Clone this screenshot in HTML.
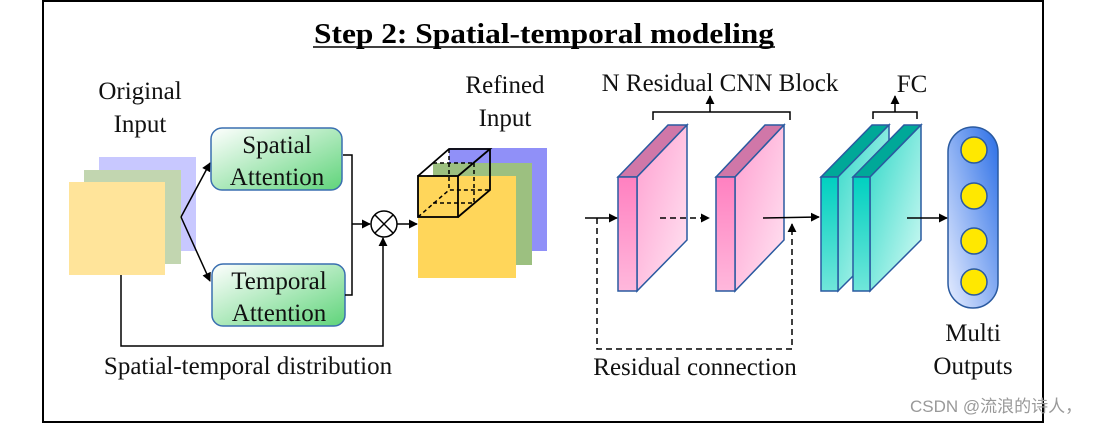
<!DOCTYPE html>
<html><head><meta charset="utf-8"><style>html,body{margin:0;padding:0;background:#fff}svg{display:block}</style></head>
<body>
<svg width="1116" height="424" viewBox="0 0 1116 424" xmlns="http://www.w3.org/2000/svg" font-family="Liberation Serif, serif">
<defs>
<linearGradient id="g1" x1="0" y1="0" x2="1" y2="1"><stop offset="0" stop-color="#ffffff"/><stop offset="1" stop-color="#5fd47a"/></linearGradient>
<linearGradient id="pk" x1="0" y1="0" x2="1" y2="1"><stop offset="0" stop-color="#ff9fd0"/><stop offset="1" stop-color="#ffe6f3"/></linearGradient>
<linearGradient id="pkf" x1="0" y1="0" x2="0" y2="1"><stop offset="0" stop-color="#ff80c0"/><stop offset="1" stop-color="#ffb8dc"/></linearGradient>
<linearGradient id="tl" x1="0" y1="0" x2="1" y2="1"><stop offset="0" stop-color="#30d8c8"/><stop offset="1" stop-color="#d8fbf5"/></linearGradient>
<linearGradient id="tlf" x1="0" y1="0" x2="0" y2="1"><stop offset="0" stop-color="#00d0c0"/><stop offset="1" stop-color="#70e6da"/></linearGradient>
<linearGradient id="bl" x1="1" y1="0" x2="0" y2="1"><stop offset="0" stop-color="#2a6ee6"/><stop offset="1" stop-color="#e8eeff"/></linearGradient>
<marker id="ar" viewBox="0 0 10 10" refX="9" refY="5" markerWidth="9" markerHeight="9" markerUnits="userSpaceOnUse" orient="auto"><path d="M0,0 L10,5 L0,10 z" fill="#000"/></marker>
</defs>
<rect x="43" y="1" width="1000" height="421" fill="none" stroke="#000" stroke-width="2"/>
<text x="314" y="43" font-size="29" font-weight="bold" textLength="460" lengthAdjust="spacingAndGlyphs">Step 2:  Spatial-temporal modeling</text>
<line x1="313" y1="47" x2="775" y2="47" stroke="#000" stroke-width="1.5"/>
<g font-size="25" text-anchor="middle" fill="#111">
<text x="140" y="99">Original</text><text x="140" y="132">Input</text>
<text x="505" y="93">Refined</text><text x="505" y="126">Input</text>
<text x="720" y="91">N Residual CNN Block</text>
<text x="912" y="92">FC</text>
<text x="973" y="341">Multi</text><text x="973" y="374">Outputs</text>
<text x="248" y="374">Spatial-temporal distribution</text>
<text x="695" y="375">Residual connection</text>
</g>
<rect x="99" y="157" width="97" height="94" fill="#c8c8ff"/>
<rect x="84" y="170" width="97" height="94" fill="#c2d6b0"/>
<rect x="69" y="182" width="96" height="93" fill="#ffe49a"/>
<g stroke="#000" stroke-width="1.5" fill="none">
<line x1="181" y1="217" x2="210" y2="163" marker-end="url(#ar)"/>
<line x1="181" y1="217" x2="210" y2="281" marker-end="url(#ar)"/>
</g>
<rect x="211" y="128" width="131" height="62" rx="11" fill="url(#g1)" stroke="#3a6fb0" stroke-width="1.5"/>
<rect x="212" y="264" width="133" height="62" rx="11" fill="url(#g1)" stroke="#3a6fb0" stroke-width="1.5"/>
<g font-size="25" text-anchor="middle" fill="#111">
<text x="277" y="153">Spatial</text><text x="277" y="185">Attention</text>
<text x="279" y="289">Temporal</text><text x="279" y="321">Attention</text>
</g>
<g stroke="#000" stroke-width="1.5" fill="none">
<polyline points="343,155 352,155 352,295 345,295"/>
<line x1="352" y1="224" x2="370" y2="224" marker-end="url(#ar)"/>
<circle cx="384" cy="224" r="13"/>
<line x1="375" y1="215" x2="393" y2="233"/><line x1="393" y1="215" x2="375" y2="233"/>
<line x1="397" y1="224" x2="417" y2="224" marker-end="url(#ar)"/>
<polyline points="121,275 121,346 383,346 383,238" marker-end="url(#ar)"/>
</g>
<rect x="449" y="148" width="98" height="103" fill="#9090f8"/>
<rect x="433" y="163" width="99" height="102" fill="#9cc080"/>
<rect x="418" y="176" width="98" height="102" fill="#ffd65a"/>
<g stroke="#000" stroke-width="1.8" fill="none">
<rect x="418" y="176" width="40" height="41"/>
<polyline points="418,176 449,149 490,149 458,176"/>
<polyline points="490,149 490,190 458,217"/>
<g stroke-dasharray="4,3" stroke-width="1.5">
<polyline points="418,217 449,190 490,190"/>
<line x1="449" y1="149" x2="449" y2="190"/>
<line x1="474" y1="163" x2="474" y2="203"/>
<line x1="433" y1="203" x2="474" y2="203"/>
<line x1="433" y1="163" x2="474" y2="163"/>
</g>
</g>
<g stroke="#2a5aa0" stroke-width="1.5">
<polygon points="618,177 637,177 687,125 668,125" fill="#d077a8"/>
<polygon points="637,177 687,125 687,240 637,291" fill="url(#pk)"/>
<rect x="618" y="177" width="19" height="114" fill="url(#pkf)"/>
<polygon points="716,177 735,177 784,125 765,125" fill="#d077a8"/>
<polygon points="735,177 784,125 784,240 735,291" fill="url(#pk)"/>
<rect x="716" y="177" width="19" height="114" fill="url(#pkf)"/>
<polygon points="821,177 838,177 889,125 872,125" fill="#00a898"/>
<polygon points="838,177 889,125 889,240 838,291" fill="url(#tl)"/>
<rect x="821" y="177" width="17" height="114" fill="url(#tlf)"/>
<polygon points="853,177 870,177 921,125 904,125" fill="#00a898"/>
<polygon points="870,177 921,125 921,240 870,291" fill="url(#tl)"/>
<rect x="853" y="177" width="17" height="114" fill="url(#tlf)"/>
<rect x="948" y="127" width="50" height="181" rx="25" fill="url(#bl)"/>
</g>
<g fill="#ffe800" stroke="#2a5aa0" stroke-width="1.5">
<circle cx="974" cy="150" r="13"/><circle cx="974" cy="196" r="13"/><circle cx="974" cy="241" r="13"/><circle cx="974" cy="282" r="13"/>
</g>
<g stroke="#000" stroke-width="1.5" fill="none">
<line x1="585" y1="218" x2="617" y2="218" marker-end="url(#ar)"/>
<line x1="660" y1="218" x2="709" y2="218" stroke-dasharray="6,4" marker-end="url(#ar)"/>
<line x1="763" y1="218" x2="819" y2="217" marker-end="url(#ar)"/>
<polyline points="597,218 597,349 792,349 792,226" stroke-dasharray="6,4"/>
<line x1="792" y1="232" x2="792" y2="224" marker-end="url(#ar)"/>
<polyline points="653,120 653,112 790,112 790,120"/>
<line x1="710" y1="112" x2="710" y2="96" marker-end="url(#ar)"/>
<polyline points="873,119 873,112 917,112 917,119"/>
<line x1="895" y1="112" x2="895" y2="96" marker-end="url(#ar)"/>
<line x1="907" y1="218" x2="947" y2="218" marker-end="url(#ar)"/>
</g>
<text x="910" y="412" font-family="Liberation Sans, Noto Sans CJK SC, sans-serif" font-size="17" fill="#999">CSDN @流浪的诗人，</text>
</svg>
</body></html>
